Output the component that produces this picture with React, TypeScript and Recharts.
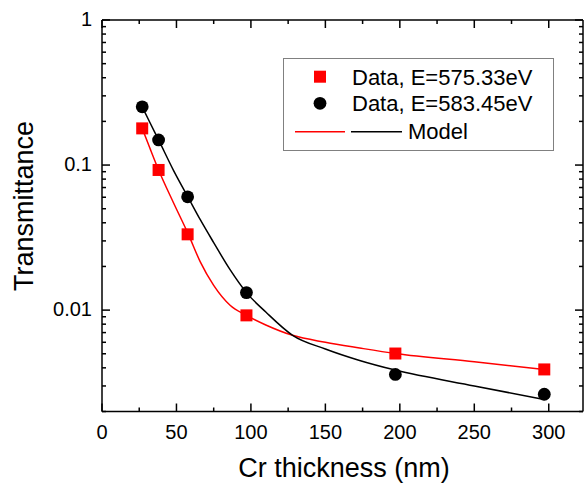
import React from "react";
import { ComposedChart, Line, Scatter, XAxis, YAxis, Legend, Label } from "recharts";

// measured points (nm, transmittance)
const thickness = [27, 38, 57.5, 97, 197, 297];
const transLow = [0.179, 0.0925, 0.0333, 0.0092, 0.00502, 0.0039]; // E=575.33eV
const transHigh = [0.252, 0.149, 0.0604, 0.0132, 0.0036, 0.00263]; // E=583.45eV

// model curves
const modelThickness = [27, 32, 38, 48, 58, 66, 75, 86, 97, 110, 128, 150, 173, 197, 250, 297];
const modelLow = [0.179, 0.132, 0.0925, 0.055, 0.0333, 0.0215, 0.0148, 0.0108, 0.0092, 0.0079, 0.0067, 0.006, 0.00548, 0.00502, 0.0044, 0.0039];
const modelHigh = [0.252, 0.198, 0.149, 0.092, 0.0595, 0.042, 0.0292, 0.019, 0.0132, 0.0097, 0.0067, 0.0054, 0.0045, 0.00386, 0.003, 0.00242];

const xMajor = [0, 50, 100, 150, 200, 250, 300];
const xMinor = [25, 75, 125, 175, 225, 275];
const yMajor = [0.01, 0.1, 1];
const yMinor = [
  0.002, 0.003, 0.004, 0.005, 0.006, 0.007, 0.008, 0.009,
  0.02, 0.03, 0.04, 0.05, 0.06, 0.07, 0.08, 0.09,
  0.2, 0.3, 0.4, 0.5, 0.6, 0.7, 0.8, 0.9,
];

const pts = (xs: number[], ys: number[]) => xs.map((x, i) => ({ x, t: ys[i] }));
const lowData = pts(thickness, transLow);
const highData = pts(thickness, transHigh);
const lowModel = pts(modelThickness, modelLow);
const highModel = pts(modelThickness, modelHigh);

const FONT = "'Liberation Sans', Arial, sans-serif";
const RED = "#ff0000";

const tickLen = (major: boolean) => (major ? 8 : 4);

const BottomTick = ({ x, y, payload }: any) => {
  const major = xMajor.includes(payload.value);
  return (
    <g>
      <line x1={x} x2={x} y1={y} y2={y - tickLen(major)} stroke="#000" strokeWidth={1.5} />
      {major && (
        <text x={x} y={y + 27} textAnchor="middle" fontSize={20} fontFamily={FONT} fill="#000">
          {payload.value}
        </text>
      )}
    </g>
  );
};

const TopTick = ({ x, y, payload }: any) => (
  <line x1={x} x2={x} y1={y} y2={y + tickLen(xMajor.includes(payload.value))} stroke="#000" strokeWidth={1.5} />
);

const LeftTick = ({ x, y, payload }: any) => {
  const major = yMajor.includes(payload.value);
  return (
    <g>
      <line x1={x} x2={x + tickLen(major)} y1={y} y2={y} stroke="#000" strokeWidth={1.5} />
      {major && (
        <text x={x - 10} y={y + 6} textAnchor="end" fontSize={20} fontFamily={FONT} fill="#000">
          {String(payload.value)}
        </text>
      )}
    </g>
  );
};

const RightTick = ({ x, y, payload }: any) => (
  <line x1={x} x2={x - tickLen(yMajor.includes(payload.value))} y1={y} y2={y} stroke="#000" strokeWidth={1.5} />
);

const Square = ({ cx, cy }: any) => <rect x={cx - 6} y={cy - 6} width={12} height={12} fill={RED} />;
const Dot = ({ cx, cy }: any) => <circle cx={cx} cy={cy} r={6.4} fill="#000" />;

const legendBox = () => (
  <svg width={271} height={93} style={{ display: "block" }} fontFamily={FONT} fontSize={22}>
    <rect x={0.5} y={0.5} width={270} height={92} fill="#fff" stroke="#808080" strokeWidth={1} />
    <rect x={31} y={12.7} width={12} height={12} fill={RED} />
    <text x={69} y={26.6} fill="#000">Data, E=575.33eV</text>
    <circle cx={37} cy={45.3} r={6.4} fill="#000" />
    <text x={69} y={53.2} fill="#000">Data, E=583.45eV</text>
    <line x1={12} x2={62} y1={73.7} y2={73.7} stroke={RED} strokeWidth={1.5} />
    <line x1={68} x2={119} y1={73.7} y2={73.7} stroke="#000" strokeWidth={1.5} />
    <text x={125} y={80.6} fill="#000">Model</text>
  </svg>
);

export default function App() {
  return (
    <div style={{ position: "absolute", left: 0, top: 0, width: 584, height: 483, overflow: "hidden", background: "#fff", fontFamily: FONT }}>
      <ComposedChart width={584} height={483} margin={{ top: 19, right: 0, bottom: 11.5, left: 22 }}>
        <XAxis
          xAxisId="b"
          dataKey="x"
          type="number"
          domain={[0, 323]}
          allowDataOverflow
          ticks={[...xMajor, ...xMinor]}
          interval={0}
          tickSize={0}
          tickMargin={0}
          tickLine={false}
          tick={<BottomTick />}
          height={60}
          axisLine={{ stroke: "#000", strokeWidth: 1.5 }}
        >
          <Label
            content={({ viewBox }: any) => (
              <text x={viewBox.x + viewBox.width / 2 + 1.5} y={viewBox.y + 65.5} textAnchor="middle" fontSize={27} fontFamily={FONT} fill="#000">
                Cr thickness (nm)
              </text>
            )}
          />
        </XAxis>
        <XAxis
          xAxisId="t"
          orientation="top"
          dataKey="x"
          type="number"
          domain={[0, 323]}
          allowDataOverflow
          ticks={[...xMajor, ...xMinor]}
          interval={0}
          tickSize={0}
          tickMargin={0}
          tickLine={false}
          tick={<TopTick />}
          height={1}
          axisLine={{ stroke: "#000", strokeWidth: 1.5 }}
        />
        <YAxis
          yAxisId="l"
          type="number"
          scale="log"
          domain={[0.002, 1]}
          allowDataOverflow
          ticks={[...yMajor, ...yMinor]}
          interval={0}
          tickSize={0}
          tickMargin={0}
          tickLine={false}
          tick={<LeftTick />}
          width={80}
          axisLine={{ stroke: "#000", strokeWidth: 1.5 }}
        >
          <Label
            content={({ viewBox }: any) => (
              <text
                transform={`translate(${viewBox.x + 11}, ${viewBox.y + 186}) rotate(-90)`}
                textAnchor="middle"
                fontSize={27}
                fontFamily={FONT}
                fill="#000"
              >
                Transmittance
              </text>
            )}
          />
        </YAxis>
        <YAxis
          yAxisId="r"
          orientation="right"
          type="number"
          scale="log"
          domain={[0.002, 1]}
          allowDataOverflow
          ticks={[...yMajor, ...yMinor]}
          interval={0}
          tickSize={0}
          tickMargin={0}
          tickLine={false}
          tick={<RightTick />}
          width={1}
          axisLine={{ stroke: "#000", strokeWidth: 1.5 }}
        />
        <Legend layout="vertical" align="center" verticalAlign="middle" content={legendBox} wrapperStyle={{ left: 283, top: 58, width: 271, height: 93 }} />
        <Line xAxisId="b" yAxisId="l" data={lowModel} dataKey="t" type="monotone" stroke={RED} strokeWidth={1.5} dot={false} isAnimationActive={false} />
        <Line xAxisId="b" yAxisId="l" data={highModel} dataKey="t" type="monotone" stroke="#000" strokeWidth={1.5} dot={false} isAnimationActive={false} />
        <Scatter xAxisId="b" yAxisId="l" data={lowData} dataKey="t" shape={<Square />} isAnimationActive={false} />
        <Scatter xAxisId="b" yAxisId="l" data={highData} dataKey="t" shape={<Dot />} isAnimationActive={false} />
      </ComposedChart>
    </div>
  );
}
